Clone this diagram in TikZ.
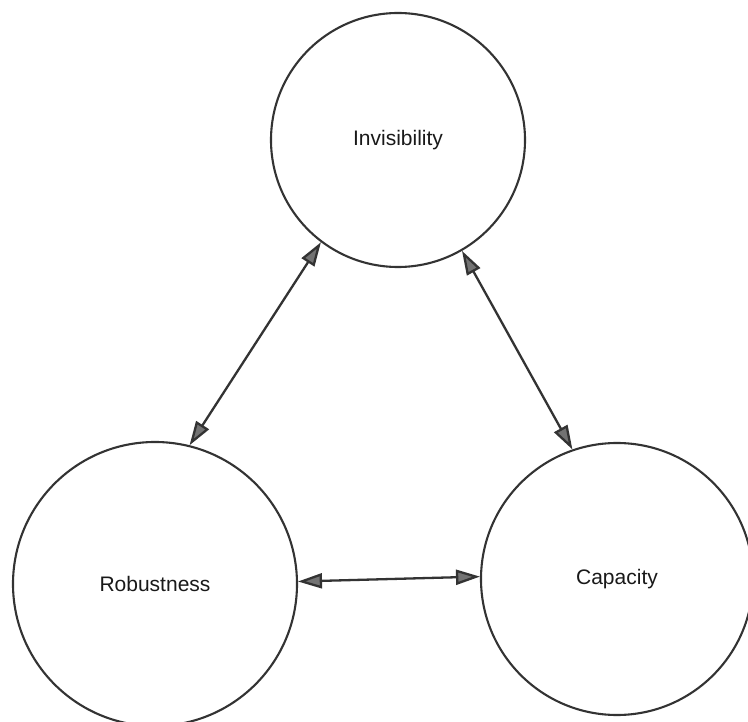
\documentclass[tikz,border=0pt]{standalone}
\usepackage{fontspec}
\setmainfont{Liberation Sans}
\usetikzlibrary{arrows.meta}
\begin{document}
\begin{tikzpicture}[x=1pt,y=1pt,
  >={Triangle[length=24pt,width=15pt,fill=black!55]},
  prop/.style={circle, draw=black!80, line width=2.1pt, inner sep=0pt,
    font=\fontsize{21}{24}\selectfont, text=black!90},
  link/.style={draw=black!80, line width=2.3pt, <->}]
  \useasboundingbox (0,0) rectangle (748,-722);
  \fill[white] (0,0) rectangle (748,-722);
  % the three properties
  \node[prop, minimum size=254pt] (inv) at (398,-140) {Invisibility};
  \node[prop, minimum size=284pt] (rob) at (155,-584) {Robustness};
  \node[prop, minimum size=272pt] (cap) at (617,-579) {Capacity};
  % trade-offs between them
  \draw[link] (inv.233) -- (rob.76);
  \draw[link] (inv.300) -- (cap.109);
  \draw[link] (rob.1) -- (cap.179);
\end{tikzpicture}
\end{document}
